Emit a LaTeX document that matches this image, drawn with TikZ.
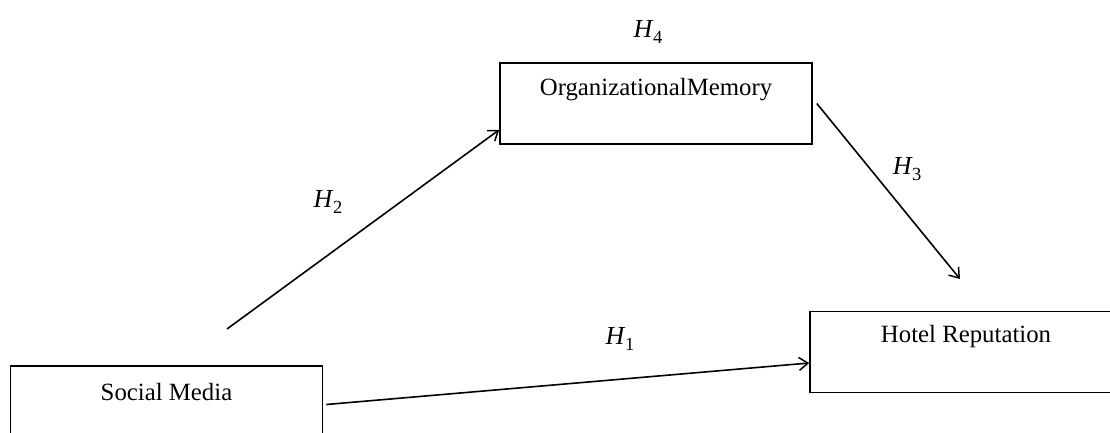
\documentclass[tikz,border=0pt]{standalone}
\usepackage{fontspec}
\setmainfont{Liberation Serif}
\usetikzlibrary{arrows.meta}
% hypothesis label: italic H with a lowered index
\newcommand{\hyplabel}[1]{{\fontsize{26}{30}\selectfont\itshape H}\kern0.5pt\raisebox{-6pt}{\fontsize{18.5}{20}\selectfont #1}}
\begin{document}
\begin{tikzpicture}[x=1pt,y=-1pt,
  every node/.style={font=\fontsize{24.8}{30}\selectfont},
  box/.style={draw, line width=1.6pt, rectangle, minimum width=312pt, minimum height=81pt, inner sep=0pt},
  lbl/.style={inner sep=0pt},
  link/.style={line width=1.6pt, -{Straight Barb[length=9pt,width=13pt,line width=1.5pt]}}]
  \useasboundingbox (0,0) rectangle (1110,432);
  \clip (0,0) rectangle (1110,432);

  % constructs
  \node[box] (om) at (656,103.5) {};
  \node[box] (hr) at (966,352) {};
  \node[box] (sm) at (166.5,406.5) {};
  \node[lbl] (omt) at ([yshift=-27pt]om.north) {OrganizationalMemory};
  \node[lbl] (hrt) at ([yshift=-26pt]hr.north) {Hotel Reputation};
  \node[lbl] (smt) at ([yshift=-27pt]sm.north) {Social Media};

  % hypothesis labels
  \node[lbl] (h4) at (648,32) {\hyplabel{4}};
  \node[lbl] (h2) at (328,202) {\hyplabel{2}};
  \node[lbl] (h3) at (907,169) {\hyplabel{3}};
  \node[lbl] (h1) at (620,339) {\hyplabel{1}};

  % free ends of the paths
  \coordinate (smtop) at (227,329);
  \coordinate (hrtop) at (960,279);

  % paths
  \draw[link] (smtop) -- ([yshift=15pt]om.south west);
  \draw[link] ([xshift=4pt]om.east) -- (hrtop);
  \draw[link] ([xshift=3pt,yshift=2pt]sm.east) -- ([yshift=-11pt]hr.west);
\end{tikzpicture}
\end{document}
